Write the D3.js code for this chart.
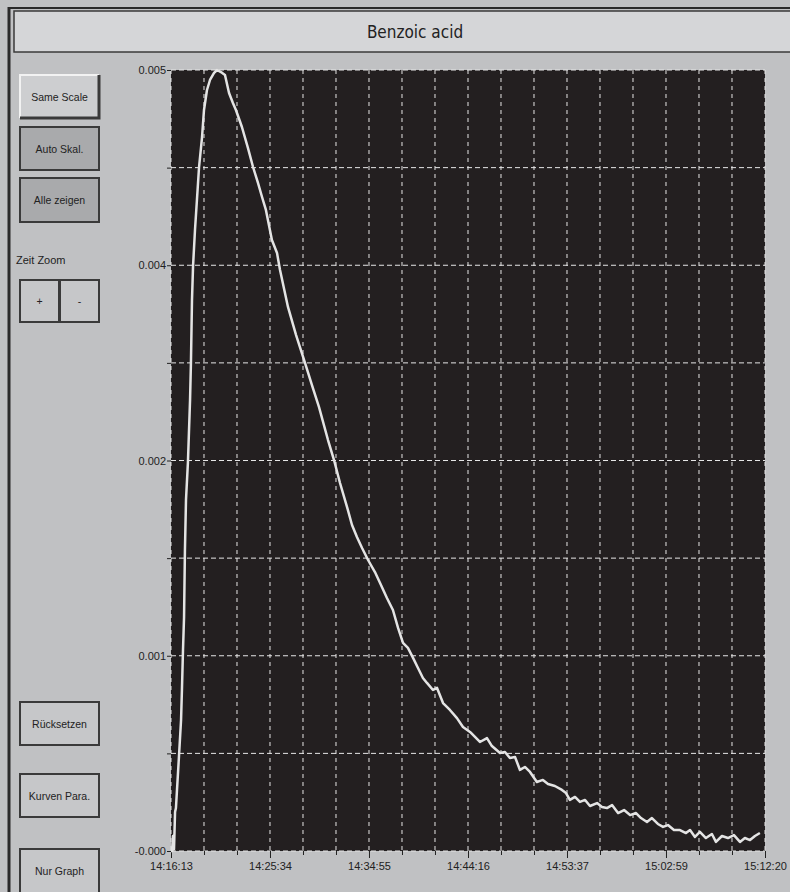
<!DOCTYPE html>
<html>
<head>
<meta charset="utf-8">
<script src="https://cdn.jsdelivr.net/npm/d3@7"></script>
<style>
  html, body { margin: 0; padding: 0; background: #c0c1c3; }
  svg { display: block; }
</style>
</head>
<body>
<div id="chart"></div>
<script>
// elapsed seconds since 14:16:13
const seconds = [0, 6, 11, 17, 23, 28, 34, 45, 57, 62, 68, 74, 79, 85, 96, 108, 113, 119, 125, 136, 147, 159, 176, 187, 204, 221, 244, 261, 283, 306, 329, 351, 368, 402, 436, 465, 493, 516, 538, 572, 601, 618, 663, 709, 760, 799, 839, 890, 924, 958, 998, 1026, 1054, 1083, 1117, 1156, 1185, 1224, 1258, 1287, 1315, 1343, 1372, 1400, 1428, 1451, 1485, 1508, 1542, 1581, 1621, 1655, 1695, 1723, 1751, 1791, 1819, 1865, 1893, 1921, 1950, 1978, 2006, 2035, 2074, 2108, 2137, 2176, 2216, 2239, 2261, 2290, 2318, 2347, 2375, 2415, 2443, 2471, 2500, 2534, 2568, 2602, 2636, 2664, 2698, 2726, 2760, 2789, 2817, 2851, 2885, 2919, 2942, 2970, 2998, 3032, 3066, 3089, 3123, 3157, 3191, 3225, 3253, 3282, 3310, 3338];
const signal = [0, 0, 0.000096, 0.00001, 0.00025, 0.000275, 0.000391, 0.000602, 0.000839, 0.001031, 0.001287, 0.001498, 0.001927, 0.002247, 0.00249, 0.002887, 0.003124, 0.003527, 0.003745, 0.003976, 0.004168, 0.004379, 0.004571, 0.004744, 0.004872, 0.004936, 0.004981, 0.005, 0.004987, 0.004968, 0.004853, 0.004789, 0.004744, 0.004635, 0.004501, 0.004379, 0.004277, 0.004187, 0.004104, 0.003912, 0.003828, 0.00372, 0.003483, 0.003303, 0.003124, 0.002983, 0.002842, 0.002631, 0.002503, 0.002356, 0.002202, 0.002087, 0.00201, 0.00194, 0.001863, 0.001786, 0.001716, 0.00162, 0.001543, 0.001428, 0.001332, 0.0013, 0.001236, 0.001172, 0.001108, 0.001076, 0.001031, 0.001044, 0.000947, 0.000903, 0.000851, 0.000794, 0.000762, 0.00073, 0.000698, 0.000723, 0.000672, 0.000627, 0.000634, 0.000595, 0.000602, 0.000519, 0.000538, 0.000506, 0.000442, 0.000455, 0.000429, 0.000416, 0.000391, 0.000371, 0.000327, 0.000346, 0.000314, 0.000327, 0.000288, 0.000307, 0.000282, 0.000275, 0.000294, 0.000243, 0.000262, 0.00023, 0.000243, 0.000211, 0.000186, 0.000211, 0.000173, 0.000154, 0.000166, 0.000134, 0.000134, 0.000115, 0.000134, 0.00009, 0.000122, 0.000083, 0.000109, 0.000058, 0.000096, 0.000083, 0.000102, 0.000058, 0.000083, 0.00007, 0.000096, 0.000115];

const xLabels = ["14:16:13", "14:25:34", "14:34:55", "14:44:16", "14:53:37", "15:02:59", "15:12:20"];
const yLabels = ["-0.000", "0.001", "0.002", "0.004", "0.005"];
const title = "Benzoic acid";
const topButtons = ["Same Scale", "Auto Skal.", "Alle zeigen"];
const bottomButtons = ["Rücksetzen", "Kurven Para.", "Nur Graph"];

const W = 790, H = 892;
const margin = { top: 70, right: 25, bottom: 41, left: 171 };
const width = W - margin.left - margin.right;
const height = H - margin.top - margin.bottom;

const start = new Date(2000, 0, 1, 14, 16, 13);
const end = new Date(start.getTime() + 3367 * 1000);
const data = seconds.map((s, i) => ({ t: new Date(start.getTime() + s * 1000), v: signal[i] }));

const svg = d3.select("#chart").append("svg").attr("width", W).attr("height", H);

// window frame
svg.append("rect").attr("x", 0).attr("y", 0).attr("width", W).attr("height", H).attr("fill", "#c0c1c3");
svg.append("line").attr("x1", 9).attr("x2", 9).attr("y1", 7).attr("y2", H).attr("stroke", "#2a2a2a").attr("stroke-width", 3);
svg.append("line").attr("x1", 8).attr("x2", W).attr("y1", 8).attr("y2", 8).attr("stroke", "#2a2a2a").attr("stroke-width", 2);

// title bar
svg.append("rect").attr("x", 14).attr("y", 11).attr("width", W).attr("height", 41)
  .attr("fill", "#d5d6d8").attr("stroke", "#3a3a3a").attr("stroke-width", 1.5);
svg.append("text").attr("x", 415).attr("y", 38).attr("text-anchor", "middle")
  .attr("font-family", "'DejaVu Sans Condensed', 'Liberation Sans Narrow', Arial, sans-serif")
  .attr("font-size", 17).attr("fill", "#222").text(title);

// buttons
function button(x, y, w, h, label, style) {
  const g = svg.append("g");
  if (style === "raised") {
    g.append("rect").attr("x", x).attr("y", y).attr("width", w).attr("height", h).attr("fill", "#cdced0");
    g.append("path").attr("d", `M${x},${y + h} V${y} H${x + w}`).attr("fill", "none").attr("stroke", "#f2f2f2").attr("stroke-width", 2);
    g.append("path").attr("d", `M${x + w},${y} V${y + h} H${x}`).attr("fill", "none").attr("stroke", "#3a3a3a").attr("stroke-width", 3);
  } else {
    g.append("rect").attr("x", x).attr("y", y).attr("width", w).attr("height", h)
      .attr("fill", style === "pressed" ? "#a9aaac" : "#c6c7c9")
      .attr("stroke", "#3a3a3a").attr("stroke-width", 2);
  }
  g.append("text").attr("x", x + w / 2).attr("y", y + h / 2 + 4).attr("text-anchor", "middle")
    .attr("font-family", "'Liberation Sans', Arial, sans-serif").attr("font-size", 10.5)
    .attr("fill", "#222").text(label);
}

button(20, 75, 79, 43, topButtons[0], "raised");
button(20, 127, 79, 43, topButtons[1], "pressed");
button(20, 178, 79, 44, topButtons[2], "pressed");

svg.append("text").attr("x", 16).attr("y", 264)
  .attr("font-family", "'Liberation Sans', Arial, sans-serif").attr("font-size", 11)
  .attr("fill", "#222").text("Zeit Zoom");
button(20, 280, 39, 42, "+", "plain");
button(60, 280, 39, 42, "-", "plain");

button(20, 702, 79, 43, bottomButtons[0], "plain");
button(20, 774, 79, 43, bottomButtons[1], "plain");
button(20, 849, 79, 44, bottomButtons[2], "plain");

// plot
const x = d3.scaleTime().domain([start, end]).range([0, width]);
const y = d3.scaleLinear().domain([0, 0.005]).range([height, 0]);

const plot = svg.append("g").attr("transform", `translate(${margin.left},${margin.top})`);
plot.append("rect").attr("width", width).attr("height", height).attr("fill", "#231f20");

const step = (end - start) / 18;
const xGrid = d3.range(19).map(i => new Date(start.getTime() + i * step));
const yGrid = d3.range(9).map(i => i * 0.000625);

plot.append("g").selectAll("line").data(xGrid).join("line")
  .attr("x1", d => x(d)).attr("x2", d => x(d)).attr("y1", 0).attr("y2", height)
  .attr("stroke", "#e6e6e6").attr("stroke-width", 1).attr("stroke-dasharray", "4,4");
plot.append("g").selectAll("line").data(yGrid).join("line")
  .attr("x1", 0).attr("x2", width).attr("y1", d => y(d)).attr("y2", d => y(d))
  .attr("stroke", "#e6e6e6").attr("stroke-width", 1).attr("stroke-dasharray", "5,3");

const xAxis = d3.axisBottom(x).tickValues(xGrid).tickSize(4).tickSizeOuter(0)
  .tickFormat((d, i) => i % 3 === 0 ? xLabels[i / 3] : "");
const gx = plot.append("g").attr("transform", `translate(0,${height})`).call(xAxis);
gx.select(".domain").remove();
gx.selectAll(".tick line").attr("stroke", "#222").attr("y2", (d, i) => i % 3 === 0 ? 7 : 4);
gx.selectAll(".tick text").attr("font-family", "'Liberation Sans', Arial, sans-serif")
  .attr("font-size", 11).attr("fill", "#222").attr("dy", "1.1em");

const yAxis = d3.axisLeft(y).tickValues(yGrid).tickSize(4).tickSizeOuter(0)
  .tickFormat((d, i) => i % 2 === 0 ? yLabels[i / 2] : "");
const gy = plot.append("g").call(yAxis);
gy.select(".domain").remove();
gy.selectAll(".tick line").attr("stroke", "#222");
gy.selectAll(".tick text").attr("font-family", "'Liberation Sans', Arial, sans-serif")
  .attr("font-size", 11).attr("fill", "#222").attr("x", -5);

const line = d3.line().x(d => x(d.t)).y(d => y(d.v));
plot.append("path").datum(data).attr("d", line)
  .attr("fill", "none").attr("stroke", "#e4e4e4").attr("stroke-width", 2.5).attr("stroke-linejoin", "round");
</script>
</body>
</html>
